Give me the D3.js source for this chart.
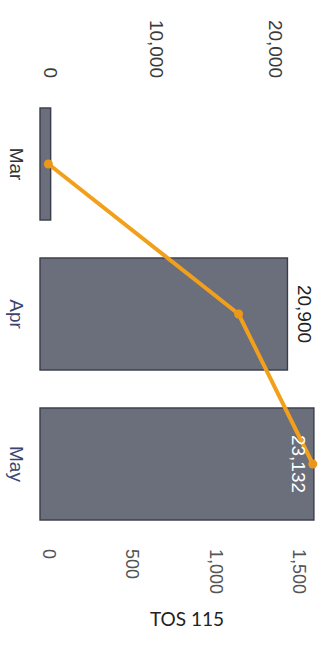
<!DOCTYPE html>
<html><head><meta charset="utf-8">
<script src="https://cdn.jsdelivr.net/npm/d3@7"></script>
<style>html,body{margin:0;padding:0;background:#fff;}svg{display:block;}</style>
</head><body>
<script>
const categories = ["Mar", "Apr", "May"];
const barValues = [900, 20900, 23132];
const lineValues = [0, 1140, 1585];
const primaryTicks = [0, 10000, 20000];
const secondaryTicks = [0, 500, 1000, 1500];
const barLabels = [null, "20,900", "23,132"];
const secondaryTitle = "TOS 115";

const W = 328, H = 645;
const FONT = "'Liberation Sans', Arial, sans-serif";
const svg = d3.select("body").append("svg").attr("width", W).attr("height", H);

const x = d3.scaleLinear().domain([0, 25000]).range([40, 336]);
const x2 = d3.scaleLinear().domain([0, 1600]).range([48.4, 315.3]);
const y = d3.scaleBand().domain(categories).range([89, 539]).paddingInner(0.253).paddingOuter(0.1265);

const fmt = d3.format(",");
const rows = categories.map((c, i) => ({ cat: c, v: barValues[i], l: lineValues[i], lab: barLabels[i], i }));

// bars
svg.append("g").selectAll("rect").data(rows).join("rect")
  .attr("x", x(0))
  .attr("y", d => y(d.cat))
  .attr("width", d => x(d.v) - x(0))
  .attr("height", y.bandwidth())
  .attr("fill", "#6b6f7b")
  .attr("stroke", "#3a3d49")
  .attr("stroke-width", 1.4);

// primary axis (top)
const axTop = svg.append("g").attr("transform", "translate(0,78)")
  .call(d3.axisTop(x).tickValues(primaryTicks).tickFormat(fmt).tickSize(0).tickPadding(0));
axTop.select(".domain").remove();
axTop.attr("font-family", FONT).attr("font-size", 19);
axTop.selectAll("text")
  .attr("fill", "#3a3a3a")
  .attr("text-anchor", "end")
  .attr("dominant-baseline", "central")
  .attr("transform", d => `translate(${d === 0 ? 10 : -2},0) rotate(90)`)
  .attr("x", 0).attr("y", 0).attr("dy", null);

// secondary axis (bottom)
const axBot = svg.append("g").attr("transform", "translate(0,549)")
  .call(d3.axisBottom(x2).tickValues(secondaryTicks).tickFormat(fmt).tickSize(0).tickPadding(0));
axBot.select(".domain").remove();
axBot.attr("font-family", FONT).attr("font-size", 18);
axBot.selectAll("text")
  .attr("fill", "#555")
  .attr("text-anchor", "start")
  .attr("dominant-baseline", "central")
  .attr("transform", "rotate(90)")
  .attr("x", 0).attr("y", 0).attr("dy", null);

// category labels
svg.append("g").attr("font-family", FONT).attr("font-size", 19)
  .selectAll("text").data(rows).join("text")
  .attr("transform", d => `translate(16,${y(d.cat) + y.bandwidth() / 2}) rotate(90)`)
  .attr("text-anchor", "middle")
  .attr("dominant-baseline", "central")
  .attr("fill", d => d.i === 0 ? "#333" : "#3a4670")
  .text(d => d.cat);

// line
const line = d3.line()
  .x(d => x2(d.l))
  .y(d => y(d.cat) + y.bandwidth() / 2);
svg.append("path").datum(rows)
  .attr("d", line)
  .attr("fill", "none")
  .attr("stroke", "#f2a01c")
  .attr("stroke-width", 4)
  .attr("stroke-linejoin", "round");
svg.append("g").selectAll("circle").data(rows).join("circle")
  .attr("cx", d => x2(d.l))
  .attr("cy", d => y(d.cat) + y.bandwidth() / 2)
  .attr("r", 4.5)
  .attr("fill", "#eb981a");

// data labels
svg.append("g").attr("font-family", FONT).attr("font-size", 19)
  .selectAll("text").data(rows.filter(d => d.lab)).join("text")
  .attr("transform", d => {
    const inside = d.i === 2;
    const px = inside ? x(d.v) - 15 : x(d.v) + 17;
    return `translate(${px},${y(d.cat) + y.bandwidth() / 2}) rotate(90)`;
  })
  .attr("text-anchor", "middle")
  .attr("dominant-baseline", "central")
  .attr("fill", d => d.i === 2 ? "#ffffff" : "#222")
  .text(d => d.lab);

// secondary title
svg.append("text")
  .attr("x", 187).attr("y", 626)
  .attr("text-anchor", "middle")
  .attr("font-family", "Lato, 'Open Sans', sans-serif")
  .attr("font-size", 19)
  .attr("fill", "#222")
  .text(secondaryTitle);
</script>
</body></html>
